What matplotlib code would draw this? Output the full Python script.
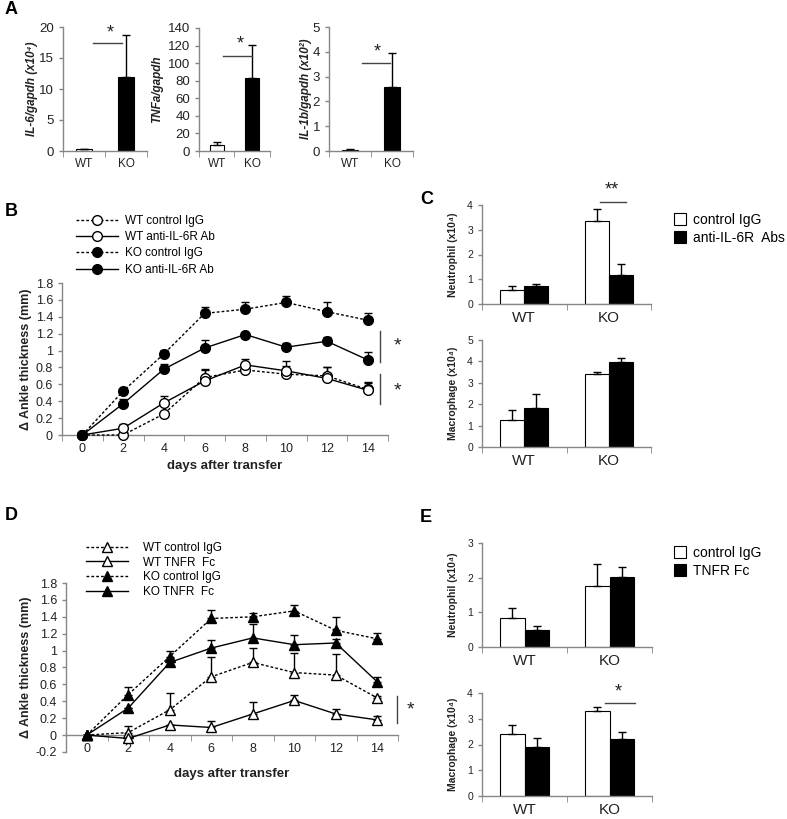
import numpy as np
import matplotlib
matplotlib.use("Agg")
import matplotlib.pyplot as plt
from matplotlib.patches import Patch
from matplotlib.lines import Line2D
from matplotlib.ticker import FuncFormatter

plt.rcParams['font.family'] = ['Liberation Sans', 'DejaVu Sans']

W, H = 787, 819
GRAY = '#868686'
TXT = '#222222'

# ---- panel A data ----
genotypes = ["WT", "KO"]
il6 = [0.3, 12.0]
il6_err = [0.1, 6.7]
tnfa = [7.0, 83.0]
tnfa_err = [3.0, 38.0]
il1b = [0.05, 2.6]
il1b_err = [0.02, 1.37]

# ---- panel B data ----
days = [0, 2, 4, 6, 8, 10, 12, 14]
b_wt_ctrl = [0, 0.00, 0.25, 0.68, 0.77, 0.72, 0.70, 0.54]
b_wt_ctrl_err = [0, 0.00, 0.00, 0.10, 0.06, 0.10, 0.10, 0.08]
b_wt_ab = [0, 0.08, 0.38, 0.64, 0.83, 0.76, 0.67, 0.53]
b_wt_ab_err = [0, 0.05, 0.08, 0.13, 0.07, 0.12, 0.14, 0.10]
b_ko_ctrl = [0, 0.52, 0.96, 1.44, 1.49, 1.57, 1.46, 1.36]
b_ko_ctrl_err = [0, 0.03, 0.05, 0.08, 0.09, 0.08, 0.11, 0.09]
b_ko_ab = [0, 0.37, 0.78, 1.03, 1.19, 1.04, 1.11, 0.89]
b_ko_ab_err = [0, 0.06, 0.06, 0.09, 0.02, 0.05, 0.05, 0.09]

# ---- panel C data ----
c_neu_ctrl = [0.58, 3.35]
c_neu_ctrl_err = [0.14, 0.47]
c_neu_ab = [0.72, 1.18]
c_neu_ab_err = [0.10, 0.42]
c_mac_ctrl = [1.25, 3.42]
c_mac_ctrl_err = [0.50, 0.10]
c_mac_ab = [1.83, 3.95]
c_mac_ab_err = [0.65, 0.20]

# ---- panel D data ----
d_wt_ctrl = [0, 0.03, 0.30, 0.69, 0.86, 0.74, 0.71, 0.44]
d_wt_ctrl_err = [0, 0.08, 0.20, 0.24, 0.17, 0.23, 0.25, 0.02]
d_wt_fc = [0, -0.04, 0.12, 0.09, 0.25, 0.41, 0.25, 0.18]
d_wt_fc_err = [0, 0.00, 0.00, 0.08, 0.14, 0.07, 0.06, 0.05]
d_ko_ctrl = [0, 0.48, 0.93, 1.38, 1.40, 1.47, 1.24, 1.14]
d_ko_ctrl_err = [0, 0.09, 0.06, 0.10, 0.05, 0.07, 0.16, 0.07]
d_ko_fc = [0, 0.32, 0.86, 1.03, 1.15, 1.07, 1.09, 0.63]
d_ko_fc_err = [0, 0.00, 0.05, 0.09, 0.16, 0.11, 0.05, 0.06]

# ---- panel E data ----
e_neu_ctrl = [0.83, 1.77]
e_neu_ctrl_err = [0.30, 0.62]
e_neu_fc = [0.50, 2.03]
e_neu_fc_err = [0.10, 0.27]
e_mac_ctrl = [2.40, 3.32]
e_mac_ctrl_err = [0.35, 0.12]
e_mac_fc = [1.92, 2.22]
e_mac_fc_err = [0.35, 0.27]

fig = plt.figure(figsize=(W / 100, H / 100), dpi=100)


def px_axes(x0, y0, x1, y1):
    return fig.add_axes([x0 / W, 1 - y1 / H, (x1 - x0) / W, (y1 - y0) / H])


def ylabel_at(ax, px):
    # right edge of the rotated y label at a given figure x pixel
    box = ax.get_position()
    ax.yaxis.set_label_coords((px / W - box.x0) / box.width, 0.5)


def style(ax):
    for s in ['top', 'right']:
        ax.spines[s].set_visible(False)
    for s in ['left', 'bottom']:
        ax.spines[s].set_color(GRAY)
        ax.spines[s].set_linewidth(1)
    ax.tick_params(colors=GRAY, labelcolor=TXT, direction='out', width=1, length=3)


def cat_xaxis(ax, labels, size):
    ax.set_xlim(-0.5, 1.5)
    ax.set_xticks([0, 1])
    ax.set_xticklabels(labels, fontsize=size)
    ax.set_xticks([-0.5, 0.5, 1.5], minor=True)
    ax.tick_params(axis='x', which='major', length=0, pad=5)
    ax.tick_params(axis='x', which='minor', length=4, color=GRAY)


def up_err(err):
    return [np.zeros(len(err)), err]


def letter(x, y, s):
    fig.text(x / W, 1 - y / H, s, fontsize=13, fontweight='bold', ha='left', va='center')


# ================= A =================
a_specs = [
    ((63, 27, 147, 151), il6, il6_err, 20, 5, 'IL-6/gapdh (x10⁴)', 38, (0.21, 0.9, 17.4, 0.62, 19.0)),
    ((199, 28, 270, 151), tnfa, tnfa_err, 140, 20, 'TNFa/gapdh', 163, (0.19, 1.0, 108, 0.67, 122)),
    ((329, 27, 413, 151), il1b, il1b_err, 5, 1, 'IL-1b/gapdh (x10²)', 312, (0.29, 0.95, 3.55, 0.64, 4.0)),
]
for rect, vals, errs, ymax, step, lab, lx, sig in a_specs:
    ax = px_axes(*rect)
    style(ax)
    ax.bar([0, 1], vals, width=0.4, color=['white', 'black'], edgecolor='black', linewidth=0.8)
    ax.errorbar([0, 1], vals, yerr=up_err(errs), fmt='none', ecolor='black',
                elinewidth=1, capsize=3, capthick=1)
    ax.set_ylim(0, ymax)
    ax.set_yticks(np.arange(0, ymax + step / 2, step))
    ax.tick_params(axis='y', labelsize=9.5)
    cat_xaxis(ax, genotypes, 8.5)
    ax.set_ylabel(lab, fontsize=8.5, fontweight='bold', style='italic', color=TXT)
    ylabel_at(ax, lx)
    x0, x1, yl, xs, ys = sig
    ax.plot([x0, x1], [yl, yl], color='#444444', lw=1, clip_on=False)
    ax.text(xs, ys, '*', ha='center', va='center', fontsize=13, color=TXT)

letter(5, 10, 'A')

fmt = FuncFormatter(lambda v, _: f"{round(v, 1):g}")


def line_panel(ax, series, ylo, marker):
    style(ax)
    for y, e, ls, fc in series:
        ax.errorbar(days, y, yerr=up_err(e), fmt='none', ecolor='black',
                    elinewidth=1, capsize=3, capthick=1, zorder=2)
        ax.plot(days, y, color='black', linestyle=ls, lw=1, marker=marker,
                markersize=7 if marker == 'o' else 7.5, markerfacecolor=fc,
                markeredgecolor='black', markeredgewidth=1, zorder=3, clip_on=False)
    ax.set_xlim(-1, 15)
    ax.set_ylim(ylo, 1.8)
    ax.set_yticks(np.arange(ylo, 1.81, 0.2))
    ax.yaxis.set_major_formatter(fmt)
    ax.set_xticks(days)
    ax.set_xticks(np.arange(-1, 16, 2), minor=True)
    ax.tick_params(axis='x', which='major', length=0, pad=6, labelsize=9)
    ax.tick_params(axis='x', which='minor', length=4, color=GRAY)
    ax.tick_params(axis='y', labelsize=9)
    ax.spines['bottom'].set_position(('data', 0))
    ax.set_ylabel('Δ Ankle thickness (mm)', fontsize=9, fontweight='bold', color=TXT)
    ylabel_at(ax, 32)
    ax.set_xlabel('days after transfer', fontsize=9.5, fontweight='bold', color=TXT)


DOT = (0, (2, 1.5))

# ================= B =================
axb = px_axes(62, 283, 388, 435)
b_series = [
    (b_wt_ctrl, b_wt_ctrl_err, DOT, 'white'),
    (b_wt_ab, b_wt_ab_err, '-', 'white'),
    (b_ko_ctrl, b_ko_ctrl_err, DOT, 'black'),
    (b_ko_ab, b_ko_ab_err, '-', 'black'),
]
line_panel(axb, b_series, 0, 'o')
axb.xaxis.labelpad = 3
b_labels = ['WT control IgG', 'WT anti-IL-6R Ab', 'KO control IgG', 'KO anti-IL-6R Ab']
hb = [Line2D([], [], color='black', linestyle=ls, lw=1, marker='o', markersize=7,
             markerfacecolor=fc, markeredgecolor='black') for _, _, ls, fc in b_series]
axb.legend(hb, b_labels, loc='upper left', bbox_to_anchor=(70 / W, 1 - 209 / H),
           bbox_transform=fig.transFigure, frameon=False, numpoints=1, handlelength=3.6,
           fontsize=8.5, labelspacing=0.36, handletextpad=0.6, borderpad=0)
# significance
for ya, yb, ys in [(0.87, 1.23, 1.05), (0.37, 0.72, 0.52)]:
    axb.plot([14.6, 14.6], [ya, yb], color='#444444', lw=1, clip_on=False)
    axb.text(15.3, ys, '*', ha='left', va='center', fontsize=14, color=TXT)
letter(5, 212, 'B')

# ================= D =================
axd = px_axes(66, 583, 398, 752)
d_series = [
    (d_wt_ctrl, d_wt_ctrl_err, DOT, 'white'),
    (d_wt_fc, d_wt_fc_err, '-', 'white'),
    (d_ko_ctrl, d_ko_ctrl_err, DOT, 'black'),
    (d_ko_fc, d_ko_fc_err, '-', 'black'),
]
line_panel(axd, d_series, -0.2, '^')
axd.xaxis.labelpad = 9
d_labels = ['WT control IgG', 'WT TNFR  Fc', 'KO control IgG', 'KO TNFR  Fc']
hd = [Line2D([], [], color='black', linestyle=ls, lw=1, marker='^', markersize=7.5,
             markerfacecolor=fc, markeredgecolor='black') for _, _, ls, fc in d_series]
axd.legend(hd, d_labels, loc='upper left', bbox_to_anchor=(80 / W, 1 - 536 / H),
           bbox_transform=fig.transFigure, frameon=False, numpoints=1, handlelength=3.6,
           fontsize=8.5, labelspacing=0.22, handletextpad=1.2, borderpad=0)
axd.plot([14.95, 14.95], [0.14, 0.46], color='#444444', lw=1, clip_on=False)
axd.text(15.4, 0.3, '*', ha='left', va='center', fontsize=14, color=TXT)
letter(5, 515, 'D')


# ================= C / E =================
def group_bars(ax, ctrl, ctrl_err, trt, trt_err, ymax, lab):
    style(ax)
    x = np.arange(2)
    bw = 0.285
    ax.bar(x - bw / 2, ctrl, width=bw, color='white', edgecolor='black', linewidth=0.8)
    ax.bar(x + bw / 2, trt, width=bw, color='black', edgecolor='black', linewidth=0.8)
    ax.errorbar(x - bw / 2, ctrl, yerr=up_err(ctrl_err), fmt='none', ecolor='black',
                elinewidth=1, capsize=3, capthick=1)
    ax.errorbar(x + bw / 2, trt, yerr=up_err(trt_err), fmt='none', ecolor='black',
                elinewidth=1, capsize=3, capthick=1)
    ax.set_ylim(0, ymax)
    ax.set_yticks(np.arange(0, ymax + 0.5, 1))
    ax.tick_params(axis='y', labelsize=7.5)
    cat_xaxis(ax, genotypes, 11)
    ax.set_ylabel(lab, fontsize=7.5, fontweight='bold', color=TXT)
    ylabel_at(ax, 458)


legend_kw = dict(loc='upper left', frameon=False, fontsize=10, handlelength=0.9,
                 handleheight=0.9, handletextpad=0.5, labelspacing=0.28, borderpad=0)

axc1 = px_axes(482, 205, 651, 304)
group_bars(axc1, c_neu_ctrl, c_neu_ctrl_err, c_neu_ab, c_neu_ab_err, 4, 'Neutrophil (x10⁴)')
axc1.plot([0.9, 1.2], [4.12, 4.12], color='#444444', lw=1, clip_on=False)
axc1.text(1.04, 4.25, '**', ha='center', va='bottom', fontsize=13, color=TXT)
axc2 = px_axes(482, 340, 651, 447)
group_bars(axc2, c_mac_ctrl, c_mac_ctrl_err, c_mac_ab, c_mac_ab_err, 5, 'Macrophage (x10⁴)')
hc = [Patch(facecolor='white', edgecolor='black', linewidth=0.8),
      Patch(facecolor='black', edgecolor='black', linewidth=0.8)]
fig.legend(hc, ['control IgG', 'anti-IL-6R  Abs'],
           bbox_to_anchor=(667 / W, 1 - 206 / H), **legend_kw)
letter(420, 200, 'C')

axe1 = px_axes(482, 543, 652, 647)
group_bars(axe1, e_neu_ctrl, e_neu_ctrl_err, e_neu_fc, e_neu_fc_err, 3, 'Neutrophil (x10⁴)')
axe2 = px_axes(482, 693, 652, 796)
group_bars(axe2, e_mac_ctrl, e_mac_ctrl_err, e_mac_fc, e_mac_fc_err, 4, 'Macrophage (x10⁴)')
axe2.plot([0.95, 1.3], [3.63, 3.63], color='#444444', lw=1, clip_on=False)
axe2.text(1.1, 3.72, '*', ha='center', va='bottom', fontsize=13, color=TXT)
hE = [Patch(facecolor='white', edgecolor='black', linewidth=0.8),
      Patch(facecolor='black', edgecolor='black', linewidth=0.8)]
fig.legend(hE, ['control IgG', 'TNFR Fc'],
           bbox_to_anchor=(667 / W, 1 - 539 / H), **legend_kw)
letter(420, 517, 'E')

fig.savefig('out.png', dpi=100)
